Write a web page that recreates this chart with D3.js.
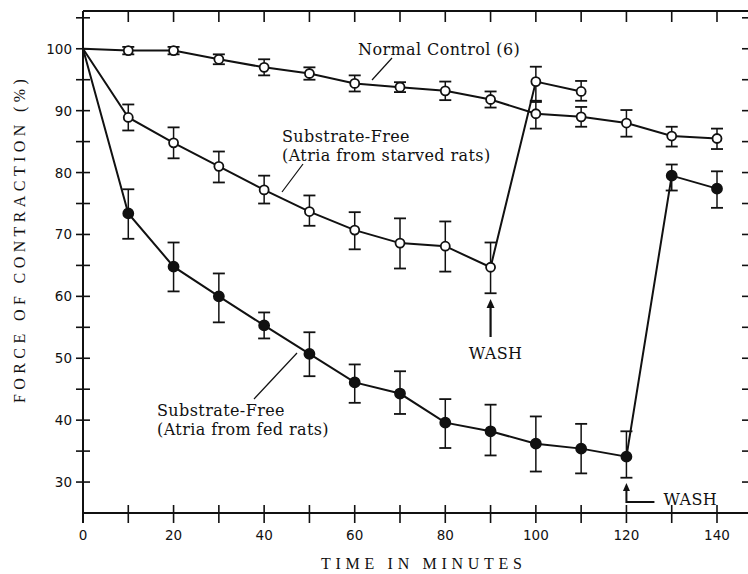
<!DOCTYPE html>
<html>
<head>
    <meta charset="utf-8">
    <style>
        body { margin: 0; background: #fff; }
        svg { display: block; }
        .tick-label { font-family: 'DejaVu Sans', Arial, sans-serif; font-size: 13.5px; fill: #111; }
        .note { font-family: 'DejaVu Serif', 'Liberation Serif', serif; font-size: 16px; letter-spacing: 0.4px; fill: #111; }
        .axis-title { font-family: 'Liberation Serif', 'DejaVu Serif', serif; font-size: 16px; fill: #111; }
    </style>
</head>
<body>
<svg id="chart" width="748" height="574"></svg>

<script src="https://cdn.jsdelivr.net/npm/d3@7"></script>
<script>
    // time points (minutes)
    const times = [0, 10, 20, 30, 40, 50, 60, 70, 80, 90, 100, 110, 120, 130, 140];

    // Normal Control (6) - open circles
    const normalVals = [100, 99.7, 99.7, 98.3, 97.0, 96.0, 94.4, 93.8, 93.2, 91.8, 89.5, 89.0, 88.0, 85.9, 85.5];
    const normalHi   = [null, 100.3, 100.3, 99.1, 98.3, 97.0, 95.7, 94.6, 94.7, 93.1, 91.4, 90.6, 90.1, 87.4, 87.1];
    const normalLo   = [null, 99.1, 99.1, 97.5, 95.7, 95.0, 93.1, 93.0, 91.7, 90.5, 87.1, 87.4, 85.8, 84.2, 83.8];

    // Substrate-free, starved rats - open circles (wash after 90)
    const starvedTimes = [0, 10, 20, 30, 40, 50, 60, 70, 80, 90, 100, 110];
    const starvedVals  = [100, 88.9, 84.8, 81.0, 77.2, 73.7, 70.7, 68.6, 68.1, 64.7, 94.7, 93.1];
    const starvedHi    = [null, 91.0, 87.3, 83.4, 79.5, 76.3, 73.6, 72.6, 72.1, 68.7, 97.1, 94.8];
    const starvedLo    = [null, 86.8, 82.3, 78.4, 75.0, 71.4, 67.6, 64.5, 64.0, 60.5, 91.6, 91.6];

    // Substrate-free, fed rats - filled circles (wash after 120)
    const fedVals = [100, 73.4, 64.8, 60.0, 55.3, 50.7, 46.1, 44.3, 39.6, 38.2, 36.2, 35.4, 34.1, 79.5, 77.4];
    const fedHi   = [null, 77.3, 68.7, 63.7, 57.4, 54.2, 49.0, 47.9, 43.4, 42.5, 40.6, 39.4, 38.2, 81.3, 80.2];
    const fedLo   = [null, 69.3, 60.8, 55.8, 53.2, 47.1, 42.8, 41.0, 35.5, 34.3, 31.7, 31.4, 30.7, 77.1, 74.3];

    const xTickLabels = [0, 20, 40, 60, 80, 100, 120, 140];
    const yTickLabels = [30, 40, 50, 60, 70, 80, 90, 100];

    const svg = d3.select("#chart");

    const x = d3.scaleLinear().domain([0, 140]).range([83, 717]);
    const y = d3.scaleLinear().domain([25, 106.1]).range([513, 11]);

    const plotLeft = x(0), plotRight = 748, plotTop = y(106.1), plotBottom = y(25);

    // frame
    svg.append("line").attr("x1", plotLeft).attr("x2", plotRight).attr("y1", plotTop).attr("y2", plotTop)
        .attr("stroke", "#111").attr("stroke-width", 2);
    svg.append("line").attr("x1", plotLeft).attr("x2", plotLeft).attr("y1", plotTop).attr("y2", plotBottom + 10)
        .attr("stroke", "#111").attr("stroke-width", 2);
    svg.append("line").attr("x1", plotLeft).attr("x2", plotRight).attr("y1", plotBottom).attr("y2", plotBottom)
        .attr("stroke", "#111").attr("stroke-width", 2);

    // x ticks: every 10 minutes
    const xMinor = d3.range(10, 141, 10);
    svg.append("g").selectAll("line").data(xMinor).join("line")
        .attr("x1", d => x(d)).attr("x2", d => x(d))
        .attr("y1", plotBottom - 8).attr("y2", plotBottom + 10)
        .attr("stroke", "#111").attr("stroke-width", 1.6);
    svg.append("g").selectAll("line").data(xMinor).join("line")
        .attr("x1", d => x(d)).attr("x2", d => x(d))
        .attr("y1", plotTop).attr("y2", plotTop + 11)
        .attr("stroke", "#111").attr("stroke-width", 1.6);
    svg.append("g").selectAll("text").data(xTickLabels).join("text")
        .attr("class", "tick-label")
        .attr("x", d => x(d)).attr("y", plotBottom + 27)
        .attr("text-anchor", "middle")
        .text(d => d);

    // y ticks: every 5 %
    const yMinor = d3.range(30, 106, 5);
    svg.append("g").selectAll("line").data(yMinor).join("line")
        .attr("x1", plotLeft - 7).attr("x2", plotLeft + 7)
        .attr("y1", d => y(d)).attr("y2", d => y(d))
        .attr("stroke", "#111").attr("stroke-width", 1.6);
    svg.append("g").selectAll("line").data(yMinor).join("line")
        .attr("x1", plotRight - 6).attr("x2", plotRight)
        .attr("y1", d => y(d)).attr("y2", d => y(d))
        .attr("stroke", "#111").attr("stroke-width", 1.6);
    svg.append("g").selectAll("text").data(yTickLabels).join("text")
        .attr("class", "tick-label")
        .attr("x", plotLeft - 11).attr("y", d => y(d) + 5)
        .attr("text-anchor", "end")
        .text(d => d);

    // axis titles
    svg.append("text").attr("class", "axis-title")
        .attr("transform", "translate(25,403) rotate(-90)")
        .attr("letter-spacing", 4.4)
        .text("FORCE OF CONTRACTION (%)");
    svg.append("text").attr("class", "axis-title")
        .attr("x", 321).attr("y", 569)
        .attr("letter-spacing", 4.7)
        .text("TIME IN MINUTES");

    const line = d3.line().x(d => x(d.t)).y(d => y(d.v));

    function drawSeries(ts, vals, his, los, filled) {
        const pts = ts.map((t, i) => ({ t: t, v: vals[i], hi: his[i], lo: los[i] }));
        const g = svg.append("g");
        g.append("path").datum(pts)
            .attr("d", line)
            .attr("fill", "none").attr("stroke", "#111").attr("stroke-width", 2);
        const bars = pts.filter(d => d.hi != null);
        g.selectAll(".eb").data(bars).join("line")
            .attr("x1", d => x(d.t)).attr("x2", d => x(d.t))
            .attr("y1", d => y(d.hi)).attr("y2", d => y(d.lo))
            .attr("stroke", "#111").attr("stroke-width", 1.5);
        g.selectAll(".cap-hi").data(bars).join("line")
            .attr("x1", d => x(d.t) - 6).attr("x2", d => x(d.t) + 6)
            .attr("y1", d => y(d.hi)).attr("y2", d => y(d.hi))
            .attr("stroke", "#111").attr("stroke-width", 1.8);
        g.selectAll(".cap-lo").data(bars).join("line")
            .attr("x1", d => x(d.t) - 6).attr("x2", d => x(d.t) + 6)
            .attr("y1", d => y(d.lo)).attr("y2", d => y(d.lo))
            .attr("stroke", "#111").attr("stroke-width", 1.8);
        g.selectAll("circle").data(bars).join("circle")
            .attr("cx", d => x(d.t)).attr("cy", d => y(d.v))
            .attr("r", filled ? 5 : 4.5)
            .attr("fill", filled ? "#111" : "#fff")
            .attr("stroke", "#111").attr("stroke-width", 1.8);
    }

    drawSeries(times, normalVals, normalHi, normalLo, false);
    drawSeries(starvedTimes, starvedVals, starvedHi, starvedLo, false);
    drawSeries(times, fedVals, fedHi, fedLo, true);

    // annotations
    svg.append("text").attr("class", "note").attr("x", 358).attr("y", 55).text("Normal Control (6)");
    svg.append("line").attr("x1", 392).attr("y1", 58).attr("x2", 372).attr("y2", 80)
        .attr("stroke", "#111").attr("stroke-width", 1.2);

    svg.append("text").attr("class", "note").attr("x", 282).attr("y", 142).text("Substrate-Free");
    svg.append("text").attr("class", "note").attr("x", 282).attr("y", 161).text("(Atria from starved rats)");
    svg.append("line").attr("x1", 303).attr("y1", 164).attr("x2", 282).attr("y2", 192)
        .attr("stroke", "#111").attr("stroke-width", 1.2);

    svg.append("text").attr("class", "note").attr("x", 157).attr("y", 416).text("Substrate-Free");
    svg.append("text").attr("class", "note").attr("x", 157).attr("y", 435).text("(Atria from fed rats)");
    svg.append("line").attr("x1", 297).attr("y1", 353).attr("x2", 254).attr("y2", 399)
        .attr("stroke", "#111").attr("stroke-width", 1.2);

    // WASH markers
    const wash1 = x(90), wash2 = x(120);
    svg.append("line").attr("x1", wash1).attr("x2", wash1).attr("y1", 337).attr("y2", 306)
        .attr("stroke", "#111").attr("stroke-width", 2.2);
    svg.append("path").attr("d", `M${wash1 - 4},${308} L${wash1},${299} L${wash1 + 4},${308} Z`).attr("fill", "#111");
    svg.append("text").attr("class", "note").attr("x", wash1 + 5).attr("y", 359)
        .attr("text-anchor", "middle").text("WASH");

    svg.append("path").attr("d", `M${wash2},${489} L${wash2},${502} L${wash2 + 28},${502}`)
        .attr("fill", "none").attr("stroke", "#111").attr("stroke-width", 2);
    svg.append("path").attr("d", `M${wash2 - 3.5},${491} L${wash2},${483} L${wash2 + 3.5},${491} Z`).attr("fill", "#111");
    svg.append("text").attr("class", "note").attr("x", wash2 + 37).attr("y", 505).text("WASH");
</script>
</body>
</html>
